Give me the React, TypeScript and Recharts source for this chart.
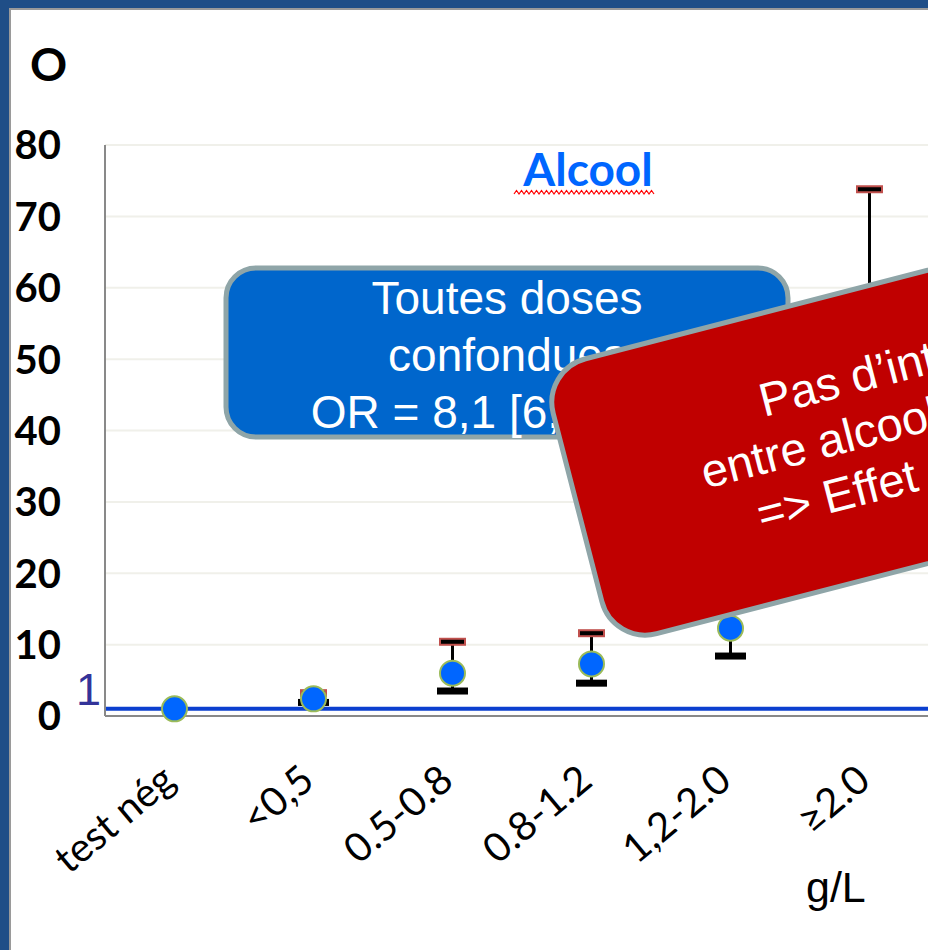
import React from 'react';
import {
  ComposedChart,
  Line,
  XAxis,
  YAxis,
  CartesianGrid,
  ReferenceLine,
  ErrorBar,
} from 'recharts';

// alcool : OR par classe d'alcoolémie
const doses = ['test nég', '<0,5', '0.5-0.8', '0.8-1.2', '1,2-2.0', '≥2.0'];
const orValues = [1.0, 2.4, 6.0, 7.3, 12.3, 39.6];
const ciLow: (number | null)[] = [null, 1.9, 3.5, 4.6, 8.4, 21.6];
const ciHigh: (number | null)[] = [null, 3.2, 10.4, 11.6, 18.0, 73.8];
const yTicks = [0, 10, 20, 30, 40, 50, 60, 70, 80];

const blueBoxLines = ['Toutes doses', 'confondues', 'OR = 8,1 [6,5-10,1]'];
const redBoxLines = ['Pas d’interaction', 'entre alcool et cannabis', '=> Effet multiplicatif'];

const data = doses.map((dose, i) => ({
  dose,
  or: orValues[i],
  low: ciLow[i],
  high: ciHigh[i],
  err: ciLow[i] == null ? [0, 0] : [orValues[i] - (ciLow[i] as number), (ciHigh[i] as number) - orValues[i]],
}));

const YTick = (props: any) => {
  const { x, y, payload } = props;
  return (
    <text x={x - 44} y={y} dy="0.36em" textAnchor="end" fontFamily="Lato" fontWeight={700} fontSize={40} fill="#000">
      {payload.value}
    </text>
  );
};

const XTick = (props: any) => {
  const { x, y, payload } = props;
  return (
    <text
      transform={`translate(${x + 3},${y + 68}) rotate(-40)`}
      textAnchor="end"
      fontFamily="Lato"
      fontSize={40}
      fill="#000"
    >
      {payload.value}
    </text>
  );
};

const Dot = (props: any) => {
  const { cx, cy, index } = props;
  if (cx == null || cy == null) return <g key={`d${index}`} />;
  return <circle key={`d${index}`} cx={cx} cy={cy} r={12.5} fill="#0066FF" stroke="#9BBB59" strokeWidth={2} />;
};

const UpperCap = (props: any) => {
  const { cx, cy, index } = props;
  if (cx == null || cy == null) return <g key={`u${index}`} />;
  return <rect key={`u${index}`} x={cx - 12.5} y={cy - 3} width={25} height={6} fill="#000" stroke="#C0504D" strokeWidth={2} />;
};

const LowerCap = (props: any) => {
  const { cx, cy, index } = props;
  if (cx == null || cy == null) return <g key={`l${index}`} />;
  return <rect key={`l${index}`} x={cx - 15.5} y={cy - 3.5} width={31} height={7} fill="#000" />;
};

const OneLabel = (props: any) => {
  const { viewBox } = props;
  return (
    <text x={viewBox.x - 4} y={viewBox.y - 4} textAnchor="end" fontFamily="Liberation Sans" fontSize={45} fill="#333399">
      1
    </text>
  );
};

const wave = (() => {
  const pts: string[] = [];
  let k = 0;
  for (let x = 514; x <= 656; x += 2.5) {
    pts.push(`${x},${k % 2 === 0 ? 194 : 190.5}`);
    k++;
  }
  return pts.join(' ');
})();

export default function App() {
  return (
    <div
      style={{
        position: 'fixed',
        top: 0,
        left: 0,
        width: 928,
        height: 950,
        overflow: 'hidden',
        background: '#fff',
      }}
    >
      <div style={{ position: 'absolute', left: 0, top: 0, width: 928, height: 8, background: '#1F4E87' }} />
      <div style={{ position: 'absolute', left: 0, top: 0, width: 9, height: 950, background: '#1F4E87' }} />
      <div style={{ position: 'absolute', left: 9, top: 8, width: 919, height: 2, background: '#9A9A9A' }} />
      <div style={{ position: 'absolute', left: 9, top: 8, width: 2, height: 942, background: '#9A9A9A' }} />

      <div style={{ position: 'absolute', left: 0, top: 0 }}>
        <ComposedChart width={1000} height={950} data={data} margin={{ top: 145, right: 61, bottom: 0, left: 0 }}>
          <CartesianGrid vertical={false} stroke="#F0F0EA" strokeWidth={2} />
          <XAxis
            dataKey="dose"
            type="category"
            height={234}
            padding={{ left: 69.5, right: 69.5 }}
            tickSize={0}
            tickMargin={0}
            tickLine={false}
            axisLine={{ stroke: '#898989', strokeWidth: 2 }}
            tick={<XTick />}
            interval={0}
          />
          <YAxis
            type="number"
            domain={[0, 80]}
            ticks={yTicks}
            width={105}
            tickSize={0}
            tickMargin={0}
            tickLine={false}
            axisLine={{ stroke: '#898989', strokeWidth: 2 }}
            tick={<YTick />}
            interval={0}
          />
          <Line dataKey="or" stroke="none" dot={false} activeDot={false} isAnimationActive={false} legendType="none">
            <ErrorBar dataKey="err" width={0} stroke="#000" strokeWidth={3} direction="y" isAnimationActive={false} />
          </Line>
          <Line dataKey="high" stroke="none" dot={<UpperCap />} activeDot={false} isAnimationActive={false} />
          <Line dataKey="low" stroke="none" dot={<LowerCap />} activeDot={false} isAnimationActive={false} />
          <Line dataKey="or" stroke="none" dot={<Dot />} activeDot={false} isAnimationActive={false} />
          <ReferenceLine y={1} stroke="#0B3FCF" strokeWidth={4} label={<OneLabel />} />
        </ComposedChart>
      </div>

      <svg width={928} height={950} style={{ position: 'absolute', left: 0, top: 0, pointerEvents: 'none' }}>
        <text x={30} y={81} fontFamily="Lato" fontWeight={700} fontSize={46} fill="#000">
          O
        </text>
        <text x={588} y={186} textAnchor="middle" fontFamily="Lato" fontWeight={700} fontSize={46} fill="#0066FF">
          Alcool
        </text>
        <polyline points={wave} fill="none" stroke="#FF0000" strokeWidth={1.2} />

        <rect x={226} y={268} width={562} height={169} rx={30} fill="#0066CC" stroke="#8FA5A8" strokeWidth={5} />
        {blueBoxLines.map((t, i) => (
          <text key={t} x={507} y={314 + i * 57} textAnchor="middle" fontFamily="Liberation Sans" fontSize={46} fill="#fff">
            {t}
          </text>
        ))}

        <g transform="translate(542,370) rotate(-14.5)">
          <rect x={0} y={0} width={754} height={284} rx={45} fill="#C00000" stroke="#8FA5A8" strokeWidth={5} />
          {redBoxLines.map((t, i) => (
            <text key={t} x={377} y={101 + i * 55} textAnchor="middle" fontFamily="Liberation Sans" fontSize={47} fill="#fff">
              {t}
            </text>
          ))}
        </g>

        <text x={806} y={902} fontFamily="Liberation Sans" fontSize={43} fill="#000">
          g/L
        </text>
      </svg>
    </div>
  );
}
